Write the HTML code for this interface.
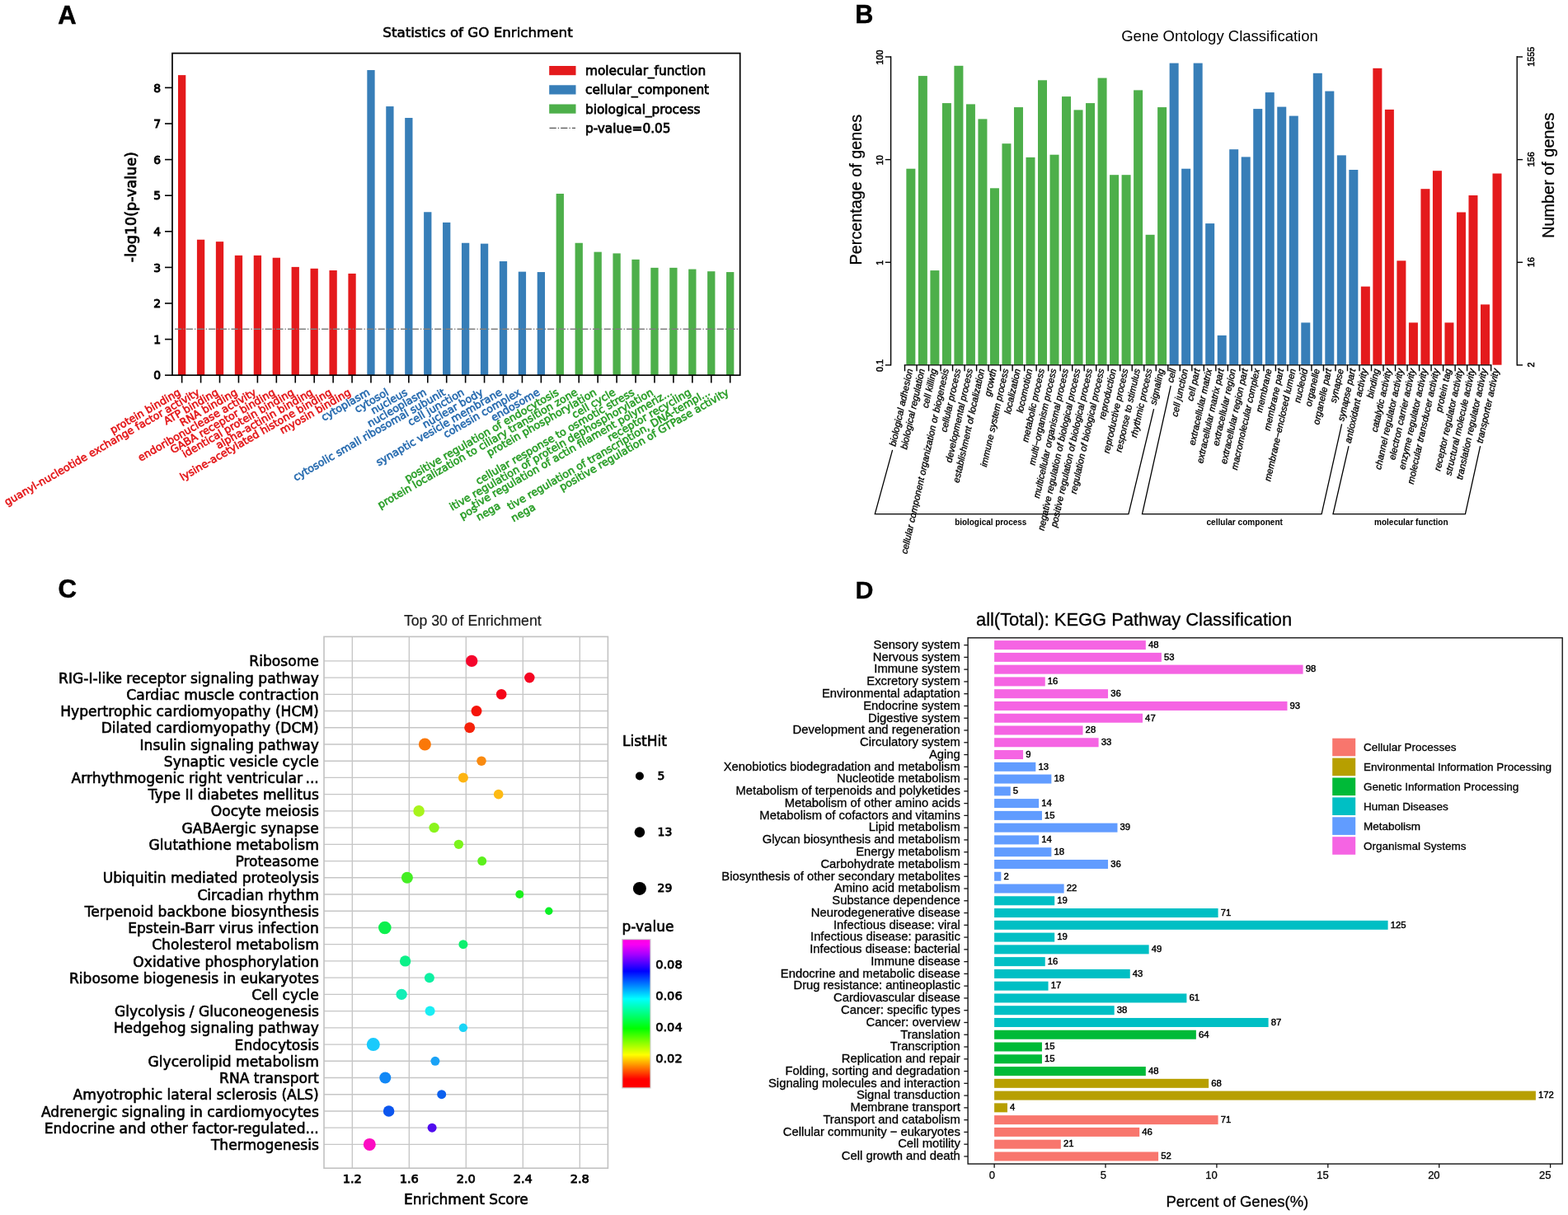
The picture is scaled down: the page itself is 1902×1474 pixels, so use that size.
<!DOCTYPE html>
<html lang="en"><head><meta charset="utf-8"><title>GO and KEGG enrichment analysis</title>
<style>html,body{margin:0;padding:0;background:#fff}svg{display:block}.hv{stroke:#000;stroke-width:.6px}.hva{stroke:#000;stroke-width:.9px}.hvl{stroke:#000;stroke-width:.75px}.hv3{stroke:#000;stroke-width:.45px}.hd{stroke:#000;stroke-width:.3px}.hb2{stroke:#000;stroke-width:.5px}.hvc{stroke:#000;stroke-width:.75px}.hb{stroke:#000;stroke-width:.35px}.hc{stroke:#000;stroke-width:.25px}text{white-space:pre}</style></head><body>
<svg width="1902" height="1474" viewBox="0 0 1902 1474" role="img" aria-label="GO and KEGG enrichment figure, panels A to D">
<rect width="1902" height="1474" fill="#fff"/>
<g id="panelA">
<rect x="216.00" y="91.14" width="9.30" height="364.06" fill="#e41a1c" />
<rect x="238.93" y="290.74" width="9.30" height="164.46" fill="#e41a1c" />
<rect x="261.86" y="293.14" width="9.30" height="162.06" fill="#e41a1c" />
<rect x="284.80" y="309.88" width="9.30" height="145.32" fill="#e41a1c" />
<rect x="307.73" y="309.88" width="9.30" height="145.32" fill="#e41a1c" />
<rect x="330.66" y="312.72" width="9.30" height="142.48" fill="#e41a1c" />
<rect x="353.59" y="323.88" width="9.30" height="131.32" fill="#e41a1c" />
<rect x="376.52" y="325.80" width="9.30" height="129.40" fill="#e41a1c" />
<rect x="399.46" y="328.02" width="9.30" height="127.18" fill="#e41a1c" />
<rect x="422.39" y="331.90" width="9.30" height="123.30" fill="#e41a1c" />
<rect x="445.32" y="85.04" width="9.30" height="370.16" fill="#377eb8" />
<rect x="468.25" y="129.07" width="9.30" height="326.13" fill="#377eb8" />
<rect x="491.18" y="143.02" width="9.30" height="312.18" fill="#377eb8" />
<rect x="514.12" y="257.26" width="9.30" height="197.94" fill="#377eb8" />
<rect x="537.05" y="269.90" width="9.30" height="185.30" fill="#377eb8" />
<rect x="559.98" y="294.75" width="9.30" height="160.45" fill="#377eb8" />
<rect x="582.91" y="295.62" width="9.30" height="159.58" fill="#377eb8" />
<rect x="605.84" y="316.99" width="9.30" height="138.21" fill="#377eb8" />
<rect x="628.78" y="329.63" width="9.30" height="125.57" fill="#377eb8" />
<rect x="651.71" y="330.07" width="9.30" height="125.13" fill="#377eb8" />
<rect x="674.64" y="235.02" width="9.30" height="220.18" fill="#4daf4a" />
<rect x="697.57" y="294.75" width="9.30" height="160.45" fill="#4daf4a" />
<rect x="720.50" y="305.65" width="9.30" height="149.55" fill="#4daf4a" />
<rect x="743.44" y="307.40" width="9.30" height="147.80" fill="#4daf4a" />
<rect x="766.37" y="314.81" width="9.30" height="140.39" fill="#4daf4a" />
<rect x="789.30" y="324.84" width="9.30" height="130.36" fill="#4daf4a" />
<rect x="812.23" y="324.84" width="9.30" height="130.36" fill="#4daf4a" />
<rect x="835.16" y="326.58" width="9.30" height="128.62" fill="#4daf4a" />
<rect x="858.10" y="329.20" width="9.30" height="126.00" fill="#4daf4a" />
<rect x="881.03" y="330.07" width="9.30" height="125.13" fill="#4daf4a" />
<line x1="212.00" y1="399.20" x2="896.00" y2="399.20" stroke="#7f7f7f" stroke-width="1.4" stroke-dasharray="8.2 2.1 1.3 2.1"/>
<rect x="209.0" y="64.6" width="688.7" height="390.6" fill="none" stroke="#000" stroke-width="1.7"/>
<line x1="200.00" y1="455.20" x2="209.00" y2="455.20" stroke="#000" stroke-width="1.6" />
<text font-family="'DejaVu Sans','Liberation Sans',sans-serif" font-size="13.9" fill="#000" text-anchor="end" x="195.00" y="460.35" class="hva">0</text>
<line x1="200.00" y1="411.60" x2="209.00" y2="411.60" stroke="#000" stroke-width="1.6" />
<text font-family="'DejaVu Sans','Liberation Sans',sans-serif" font-size="13.9" fill="#000" text-anchor="end" x="195.00" y="416.75" class="hva">1</text>
<line x1="200.00" y1="368.00" x2="209.00" y2="368.00" stroke="#000" stroke-width="1.6" />
<text font-family="'DejaVu Sans','Liberation Sans',sans-serif" font-size="13.9" fill="#000" text-anchor="end" x="195.00" y="373.15" class="hva">2</text>
<line x1="200.00" y1="324.40" x2="209.00" y2="324.40" stroke="#000" stroke-width="1.6" />
<text font-family="'DejaVu Sans','Liberation Sans',sans-serif" font-size="13.9" fill="#000" text-anchor="end" x="195.00" y="329.55" class="hva">3</text>
<line x1="200.00" y1="280.80" x2="209.00" y2="280.80" stroke="#000" stroke-width="1.6" />
<text font-family="'DejaVu Sans','Liberation Sans',sans-serif" font-size="13.9" fill="#000" text-anchor="end" x="195.00" y="285.95" class="hva">4</text>
<line x1="200.00" y1="237.20" x2="209.00" y2="237.20" stroke="#000" stroke-width="1.6" />
<text font-family="'DejaVu Sans','Liberation Sans',sans-serif" font-size="13.9" fill="#000" text-anchor="end" x="195.00" y="242.35" class="hva">5</text>
<line x1="200.00" y1="193.60" x2="209.00" y2="193.60" stroke="#000" stroke-width="1.6" />
<text font-family="'DejaVu Sans','Liberation Sans',sans-serif" font-size="13.9" fill="#000" text-anchor="end" x="195.00" y="198.75" class="hva">6</text>
<line x1="200.00" y1="150.00" x2="209.00" y2="150.00" stroke="#000" stroke-width="1.6" />
<text font-family="'DejaVu Sans','Liberation Sans',sans-serif" font-size="13.9" fill="#000" text-anchor="end" x="195.00" y="155.15" class="hva">7</text>
<line x1="200.00" y1="106.40" x2="209.00" y2="106.40" stroke="#000" stroke-width="1.6" />
<text font-family="'DejaVu Sans','Liberation Sans',sans-serif" font-size="13.9" fill="#000" text-anchor="end" x="195.00" y="111.55" class="hva">8</text>
<line x1="220.65" y1="455.20" x2="220.65" y2="464.50" stroke="#000" stroke-width="1.6" />
<text font-family="'DejaVu Sans','Liberation Sans',sans-serif" font-size="12.65" fill="#e41a1c" text-anchor="end" transform="translate(220.05 478.40) rotate(-30)" stroke="#e41a1c" stroke-width="0.65">protein binding</text>
<line x1="243.58" y1="455.20" x2="243.58" y2="464.50" stroke="#000" stroke-width="1.6" />
<text font-family="'DejaVu Sans','Liberation Sans',sans-serif" font-size="12.65" fill="#e41a1c" text-anchor="end" transform="translate(242.98 478.40) rotate(-30)" stroke="#e41a1c" stroke-width="0.65">guanyl-nucleotide exchange factor activity</text>
<line x1="266.51" y1="455.20" x2="266.51" y2="464.50" stroke="#000" stroke-width="1.6" />
<text font-family="'DejaVu Sans','Liberation Sans',sans-serif" font-size="12.65" fill="#e41a1c" text-anchor="end" transform="translate(265.91 478.40) rotate(-30)" stroke="#e41a1c" stroke-width="0.65">ATP binding</text>
<line x1="289.45" y1="455.20" x2="289.45" y2="464.50" stroke="#000" stroke-width="1.6" />
<text font-family="'DejaVu Sans','Liberation Sans',sans-serif" font-size="12.65" fill="#e41a1c" text-anchor="end" transform="translate(288.85 478.40) rotate(-30)" stroke="#e41a1c" stroke-width="0.65">RNA binding</text>
<line x1="312.38" y1="455.20" x2="312.38" y2="464.50" stroke="#000" stroke-width="1.6" />
<text font-family="'DejaVu Sans','Liberation Sans',sans-serif" font-size="12.65" fill="#e41a1c" text-anchor="end" transform="translate(311.78 478.40) rotate(-30)" stroke="#e41a1c" stroke-width="0.65">endoribonuclease activity</text>
<line x1="335.31" y1="455.20" x2="335.31" y2="464.50" stroke="#000" stroke-width="1.6" />
<text font-family="'DejaVu Sans','Liberation Sans',sans-serif" font-size="12.65" fill="#e41a1c" text-anchor="end" transform="translate(334.71 478.40) rotate(-30)" stroke="#e41a1c" stroke-width="0.65">GABA receptor binding</text>
<line x1="358.24" y1="455.20" x2="358.24" y2="464.50" stroke="#000" stroke-width="1.6" />
<text font-family="'DejaVu Sans','Liberation Sans',sans-serif" font-size="12.65" fill="#e41a1c" text-anchor="end" transform="translate(357.64 478.40) rotate(-30)" stroke="#e41a1c" stroke-width="0.65">identical protein binding</text>
<line x1="381.17" y1="455.20" x2="381.17" y2="464.50" stroke="#000" stroke-width="1.6" />
<text font-family="'DejaVu Sans','Liberation Sans',sans-serif" font-size="12.65" fill="#e41a1c" text-anchor="end" transform="translate(380.57 478.40) rotate(-30)" stroke="#e41a1c" stroke-width="0.65">alpha-actinin binding</text>
<line x1="404.11" y1="455.20" x2="404.11" y2="464.50" stroke="#000" stroke-width="1.6" />
<text font-family="'DejaVu Sans','Liberation Sans',sans-serif" font-size="12.65" fill="#e41a1c" text-anchor="end" transform="translate(403.51 478.40) rotate(-30)" stroke="#e41a1c" stroke-width="0.65">lysine-acetylated histone binding</text>
<line x1="427.04" y1="455.20" x2="427.04" y2="464.50" stroke="#000" stroke-width="1.6" />
<text font-family="'DejaVu Sans','Liberation Sans',sans-serif" font-size="12.65" fill="#e41a1c" text-anchor="end" transform="translate(426.44 478.40) rotate(-30)" stroke="#e41a1c" stroke-width="0.65">myosin binding</text>
<line x1="449.97" y1="455.20" x2="449.97" y2="464.50" stroke="#000" stroke-width="1.6" />
<text font-family="'DejaVu Sans','Liberation Sans',sans-serif" font-size="12.65" fill="#2a6db0" text-anchor="end" transform="translate(449.37 478.40) rotate(-30)" stroke="#2a6db0" stroke-width="0.65">cytoplasm</text>
<line x1="472.90" y1="455.20" x2="472.90" y2="464.50" stroke="#000" stroke-width="1.6" />
<text font-family="'DejaVu Sans','Liberation Sans',sans-serif" font-size="12.65" fill="#2a6db0" text-anchor="end" transform="translate(472.30 478.40) rotate(-30)" stroke="#2a6db0" stroke-width="0.65">cytosol</text>
<line x1="495.83" y1="455.20" x2="495.83" y2="464.50" stroke="#000" stroke-width="1.6" />
<text font-family="'DejaVu Sans','Liberation Sans',sans-serif" font-size="12.65" fill="#2a6db0" text-anchor="end" transform="translate(495.23 478.40) rotate(-30)" stroke="#2a6db0" stroke-width="0.65">nucleus</text>
<line x1="518.77" y1="455.20" x2="518.77" y2="464.50" stroke="#000" stroke-width="1.6" />
<text font-family="'DejaVu Sans','Liberation Sans',sans-serif" font-size="12.65" fill="#2a6db0" text-anchor="end" transform="translate(518.17 478.40) rotate(-30)" stroke="#2a6db0" stroke-width="0.65">nucleoplasm</text>
<line x1="541.70" y1="455.20" x2="541.70" y2="464.50" stroke="#000" stroke-width="1.6" />
<text font-family="'DejaVu Sans','Liberation Sans',sans-serif" font-size="12.65" fill="#2a6db0" text-anchor="end" transform="translate(541.10 478.40) rotate(-30)" stroke="#2a6db0" stroke-width="0.65">cytosolic small ribosomal subunit</text>
<line x1="564.63" y1="455.20" x2="564.63" y2="464.50" stroke="#000" stroke-width="1.6" />
<text font-family="'DejaVu Sans','Liberation Sans',sans-serif" font-size="12.65" fill="#2a6db0" text-anchor="end" transform="translate(564.03 478.40) rotate(-30)" stroke="#2a6db0" stroke-width="0.65">cell junction</text>
<line x1="587.56" y1="455.20" x2="587.56" y2="464.50" stroke="#000" stroke-width="1.6" />
<text font-family="'DejaVu Sans','Liberation Sans',sans-serif" font-size="12.65" fill="#2a6db0" text-anchor="end" transform="translate(586.96 478.40) rotate(-30)" stroke="#2a6db0" stroke-width="0.65">nuclear body</text>
<line x1="610.49" y1="455.20" x2="610.49" y2="464.50" stroke="#000" stroke-width="1.6" />
<text font-family="'DejaVu Sans','Liberation Sans',sans-serif" font-size="12.65" fill="#2a6db0" text-anchor="end" transform="translate(609.89 478.40) rotate(-30)" stroke="#2a6db0" stroke-width="0.65">synaptic vesicle membrane</text>
<line x1="633.43" y1="455.20" x2="633.43" y2="464.50" stroke="#000" stroke-width="1.6" />
<text font-family="'DejaVu Sans','Liberation Sans',sans-serif" font-size="12.65" fill="#2a6db0" text-anchor="end" transform="translate(632.83 478.40) rotate(-30)" stroke="#2a6db0" stroke-width="0.65">cohesin complex</text>
<line x1="656.36" y1="455.20" x2="656.36" y2="464.50" stroke="#000" stroke-width="1.6" />
<text font-family="'DejaVu Sans','Liberation Sans',sans-serif" font-size="12.65" fill="#2a6db0" text-anchor="end" transform="translate(655.76 478.40) rotate(-30)" stroke="#2a6db0" stroke-width="0.65">endosome</text>
<line x1="679.29" y1="455.20" x2="679.29" y2="464.50" stroke="#000" stroke-width="1.6" />
<text font-family="'DejaVu Sans','Liberation Sans',sans-serif" font-size="12.65" fill="#2ea02c" text-anchor="end" transform="translate(678.69 478.40) rotate(-30)" stroke="#2ea02c" stroke-width="0.65">positive regulation of endocytosis</text>
<line x1="702.22" y1="455.20" x2="702.22" y2="464.50" stroke="#000" stroke-width="1.6" />
<text font-family="'DejaVu Sans','Liberation Sans',sans-serif" font-size="12.65" fill="#2ea02c" text-anchor="end" transform="translate(701.62 478.40) rotate(-30)" stroke="#2ea02c" stroke-width="0.65">protein localization to ciliary transition zone</text>
<line x1="725.15" y1="455.20" x2="725.15" y2="464.50" stroke="#000" stroke-width="1.6" />
<text font-family="'DejaVu Sans','Liberation Sans',sans-serif" font-size="12.65" fill="#2ea02c" text-anchor="end" transform="translate(724.55 478.40) rotate(-30)" stroke="#2ea02c" stroke-width="0.65">protein phosphorylation</text>
<line x1="748.09" y1="455.20" x2="748.09" y2="464.50" stroke="#000" stroke-width="1.6" />
<text font-family="'DejaVu Sans','Liberation Sans',sans-serif" font-size="12.65" fill="#2ea02c" text-anchor="end" transform="translate(747.49 478.40) rotate(-30)" stroke="#2ea02c" stroke-width="0.65">cell cycle</text>
<line x1="771.02" y1="455.20" x2="771.02" y2="464.50" stroke="#000" stroke-width="1.6" />
<text font-family="'DejaVu Sans','Liberation Sans',sans-serif" font-size="12.65" fill="#2ea02c" text-anchor="end" transform="translate(770.42 478.40) rotate(-30)" stroke="#2ea02c" stroke-width="0.65">cellular response to osmotic stress</text>
<line x1="793.95" y1="455.20" x2="793.95" y2="464.50" stroke="#000" stroke-width="1.6" />
<text font-family="'DejaVu Sans','Liberation Sans',sans-serif" font-size="12.65" fill="#2ea02c" text-anchor="end" transform="translate(793.35 478.40) rotate(-30)" stroke="#2ea02c" stroke-width="0.65">itive regulation of protein dephosphorylation</text>
<line x1="816.88" y1="455.20" x2="816.88" y2="464.50" stroke="#000" stroke-width="1.6" />
<text font-family="'DejaVu Sans','Liberation Sans',sans-serif" font-size="12.65" fill="#2ea02c" text-anchor="end" transform="translate(816.28 478.40) rotate(-30)" stroke="#2ea02c" stroke-width="0.65">tive regulation of actin filament polymeriz...</text>
<line x1="839.81" y1="455.20" x2="839.81" y2="464.50" stroke="#000" stroke-width="1.6" />
<text font-family="'DejaVu Sans','Liberation Sans',sans-serif" font-size="12.65" fill="#2ea02c" text-anchor="end" transform="translate(839.21 478.40) rotate(-30)" stroke="#2ea02c" stroke-width="0.65">receptor recycling</text>
<line x1="862.75" y1="455.20" x2="862.75" y2="464.50" stroke="#000" stroke-width="1.6" />
<text font-family="'DejaVu Sans','Liberation Sans',sans-serif" font-size="12.65" fill="#2ea02c" text-anchor="end" transform="translate(862.15 478.40) rotate(-30)" stroke="#2ea02c" stroke-width="0.65">tive regulation of transcription, DNA-templ...</text>
<line x1="885.68" y1="455.20" x2="885.68" y2="464.50" stroke="#000" stroke-width="1.6" />
<text font-family="'DejaVu Sans','Liberation Sans',sans-serif" font-size="12.65" fill="#2ea02c" text-anchor="end" transform="translate(885.08 478.40) rotate(-30)" stroke="#2ea02c" stroke-width="0.65">positive regulation of GTPase activity</text>
<text font-family="'DejaVu Sans','Liberation Sans',sans-serif" font-size="12.65" fill="#2ea02c" transform="translate(560.50 630.30) rotate(-30)" stroke="#2ea02c" stroke-width="0.65">pos</text>
<text font-family="'DejaVu Sans','Liberation Sans',sans-serif" font-size="12.65" fill="#2ea02c" transform="translate(580.70 632.00) rotate(-30)" stroke="#2ea02c" stroke-width="0.65">nega</text>
<text font-family="'DejaVu Sans','Liberation Sans',sans-serif" font-size="12.65" fill="#2ea02c" transform="translate(623.10 633.40) rotate(-30)" stroke="#2ea02c" stroke-width="0.65">nega</text>
<text font-family="'DejaVu Sans','Liberation Sans',sans-serif" font-size="16.7" fill="#000" text-anchor="middle" x="579.50" y="45.00" class="hv">Statistics of GO Enrichment</text>
<text font-family="'DejaVu Sans','Liberation Sans',sans-serif" font-size="17.55" fill="#000" text-anchor="middle" transform="translate(165.20 251.20) rotate(-90)" class="hvl">-log10(p-value)</text>
<rect x="666.20" y="80.00" width="32.30" height="11.20" fill="#e41a1c" />
<text font-family="'DejaVu Sans','Liberation Sans',sans-serif" font-size="15.3" fill="#000" x="710.00" y="91.00" class="hvl">molecular_function</text>
<rect x="666.20" y="103.30" width="32.30" height="11.20" fill="#377eb8" />
<text font-family="'DejaVu Sans','Liberation Sans',sans-serif" font-size="15.3" fill="#000" x="710.00" y="114.30" class="hvl">cellular_component</text>
<rect x="666.20" y="126.50" width="32.30" height="11.20" fill="#4daf4a" />
<text font-family="'DejaVu Sans','Liberation Sans',sans-serif" font-size="15.3" fill="#000" x="710.00" y="137.50" class="hvl">biological_process</text>
<line x1="666.50" y1="155.40" x2="698.00" y2="155.40" stroke="#555" stroke-width="1.2" stroke-dasharray="8.2 2.1 1.3 2.1"/>
<text font-family="'DejaVu Sans','Liberation Sans',sans-serif" font-size="15.3" fill="#000" x="710.00" y="160.80" class="hvl">p-value=0.05</text>
</g>
<g id="panelB">
<rect x="1099.35" y="204.70" width="11.00" height="237.99" fill="#4daf4a" />
<rect x="1113.86" y="92.10" width="11.00" height="350.59" fill="#4daf4a" />
<rect x="1128.38" y="328.10" width="11.00" height="114.59" fill="#4daf4a" />
<rect x="1142.89" y="125.10" width="11.00" height="317.59" fill="#4daf4a" />
<rect x="1157.40" y="79.80" width="11.00" height="362.89" fill="#4daf4a" />
<rect x="1171.91" y="126.40" width="11.00" height="316.29" fill="#4daf4a" />
<rect x="1186.43" y="144.40" width="11.00" height="298.29" fill="#4daf4a" />
<rect x="1200.94" y="228.30" width="11.00" height="214.39" fill="#4daf4a" />
<rect x="1215.45" y="174.20" width="11.00" height="268.49" fill="#4daf4a" />
<rect x="1229.97" y="130.10" width="11.00" height="312.59" fill="#4daf4a" />
<rect x="1244.48" y="190.90" width="11.00" height="251.79" fill="#4daf4a" />
<rect x="1258.99" y="97.30" width="11.00" height="345.39" fill="#4daf4a" />
<rect x="1273.51" y="187.70" width="11.00" height="254.99" fill="#4daf4a" />
<rect x="1288.02" y="117.10" width="11.00" height="325.59" fill="#4daf4a" />
<rect x="1302.53" y="133.40" width="11.00" height="309.29" fill="#4daf4a" />
<rect x="1317.04" y="125.10" width="11.00" height="317.59" fill="#4daf4a" />
<rect x="1331.56" y="94.60" width="11.00" height="348.09" fill="#4daf4a" />
<rect x="1346.07" y="212.20" width="11.00" height="230.49" fill="#4daf4a" />
<rect x="1360.58" y="212.20" width="11.00" height="230.49" fill="#4daf4a" />
<rect x="1375.10" y="109.40" width="11.00" height="333.29" fill="#4daf4a" />
<rect x="1389.61" y="284.80" width="11.00" height="157.89" fill="#4daf4a" />
<rect x="1404.12" y="130.10" width="11.00" height="312.59" fill="#4daf4a" />
<rect x="1418.64" y="76.60" width="11.00" height="366.09" fill="#377eb8" />
<rect x="1433.15" y="204.70" width="11.00" height="237.99" fill="#377eb8" />
<rect x="1447.66" y="76.60" width="11.00" height="366.09" fill="#377eb8" />
<rect x="1462.17" y="271.10" width="11.00" height="171.59" fill="#377eb8" />
<rect x="1476.69" y="406.90" width="11.00" height="35.79" fill="#377eb8" />
<rect x="1491.20" y="181.20" width="11.00" height="261.49" fill="#377eb8" />
<rect x="1505.71" y="190.40" width="11.00" height="252.29" fill="#377eb8" />
<rect x="1520.23" y="132.10" width="11.00" height="310.59" fill="#377eb8" />
<rect x="1534.74" y="112.10" width="11.00" height="330.59" fill="#377eb8" />
<rect x="1549.25" y="129.60" width="11.00" height="313.09" fill="#377eb8" />
<rect x="1563.77" y="140.60" width="11.00" height="302.09" fill="#377eb8" />
<rect x="1578.28" y="391.40" width="11.00" height="51.29" fill="#377eb8" />
<rect x="1592.79" y="88.80" width="11.00" height="353.89" fill="#377eb8" />
<rect x="1607.30" y="110.60" width="11.00" height="332.09" fill="#377eb8" />
<rect x="1621.82" y="188.40" width="11.00" height="254.29" fill="#377eb8" />
<rect x="1636.33" y="206.00" width="11.00" height="236.69" fill="#377eb8" />
<rect x="1650.84" y="347.60" width="11.00" height="95.09" fill="#e41a1c" />
<rect x="1665.36" y="82.80" width="11.00" height="359.89" fill="#e41a1c" />
<rect x="1679.87" y="132.90" width="11.00" height="309.79" fill="#e41a1c" />
<rect x="1694.38" y="316.30" width="11.00" height="126.39" fill="#e41a1c" />
<rect x="1708.90" y="391.40" width="11.00" height="51.29" fill="#e41a1c" />
<rect x="1723.41" y="229.20" width="11.00" height="213.49" fill="#e41a1c" />
<rect x="1737.92" y="207.20" width="11.00" height="235.49" fill="#e41a1c" />
<rect x="1752.43" y="391.40" width="11.00" height="51.29" fill="#e41a1c" />
<rect x="1766.95" y="257.50" width="11.00" height="185.19" fill="#e41a1c" />
<rect x="1781.46" y="237.00" width="11.00" height="205.69" fill="#e41a1c" />
<rect x="1795.97" y="369.40" width="11.00" height="73.29" fill="#e41a1c" />
<rect x="1810.49" y="210.50" width="11.00" height="232.19" fill="#e41a1c" />
<line x1="1096.80" y1="442.89" x2="1809.34" y2="442.89" stroke="#000" stroke-width="1.4" />
<line x1="1097.50" y1="442.69" x2="1097.50" y2="450.29" stroke="#000" stroke-width="1.4" />
<line x1="1112.01" y1="442.69" x2="1112.01" y2="450.29" stroke="#000" stroke-width="1.4" />
<line x1="1126.53" y1="442.69" x2="1126.53" y2="450.29" stroke="#000" stroke-width="1.4" />
<line x1="1141.04" y1="442.69" x2="1141.04" y2="450.29" stroke="#000" stroke-width="1.4" />
<line x1="1155.55" y1="442.69" x2="1155.55" y2="450.29" stroke="#000" stroke-width="1.4" />
<line x1="1170.07" y1="442.69" x2="1170.07" y2="450.29" stroke="#000" stroke-width="1.4" />
<line x1="1184.58" y1="442.69" x2="1184.58" y2="450.29" stroke="#000" stroke-width="1.4" />
<line x1="1199.09" y1="442.69" x2="1199.09" y2="450.29" stroke="#000" stroke-width="1.4" />
<line x1="1213.60" y1="442.69" x2="1213.60" y2="450.29" stroke="#000" stroke-width="1.4" />
<line x1="1228.12" y1="442.69" x2="1228.12" y2="450.29" stroke="#000" stroke-width="1.4" />
<line x1="1242.63" y1="442.69" x2="1242.63" y2="450.29" stroke="#000" stroke-width="1.4" />
<line x1="1257.14" y1="442.69" x2="1257.14" y2="450.29" stroke="#000" stroke-width="1.4" />
<line x1="1271.66" y1="442.69" x2="1271.66" y2="450.29" stroke="#000" stroke-width="1.4" />
<line x1="1286.17" y1="442.69" x2="1286.17" y2="450.29" stroke="#000" stroke-width="1.4" />
<line x1="1300.68" y1="442.69" x2="1300.68" y2="450.29" stroke="#000" stroke-width="1.4" />
<line x1="1315.19" y1="442.69" x2="1315.19" y2="450.29" stroke="#000" stroke-width="1.4" />
<line x1="1329.71" y1="442.69" x2="1329.71" y2="450.29" stroke="#000" stroke-width="1.4" />
<line x1="1344.22" y1="442.69" x2="1344.22" y2="450.29" stroke="#000" stroke-width="1.4" />
<line x1="1358.73" y1="442.69" x2="1358.73" y2="450.29" stroke="#000" stroke-width="1.4" />
<line x1="1373.25" y1="442.69" x2="1373.25" y2="450.29" stroke="#000" stroke-width="1.4" />
<line x1="1387.76" y1="442.69" x2="1387.76" y2="450.29" stroke="#000" stroke-width="1.4" />
<line x1="1402.27" y1="442.69" x2="1402.27" y2="450.29" stroke="#000" stroke-width="1.4" />
<line x1="1416.79" y1="442.69" x2="1416.79" y2="450.29" stroke="#000" stroke-width="1.4" />
<line x1="1431.30" y1="442.69" x2="1431.30" y2="450.29" stroke="#000" stroke-width="1.4" />
<line x1="1445.81" y1="442.69" x2="1445.81" y2="450.29" stroke="#000" stroke-width="1.4" />
<line x1="1460.33" y1="442.69" x2="1460.33" y2="450.29" stroke="#000" stroke-width="1.4" />
<line x1="1474.84" y1="442.69" x2="1474.84" y2="450.29" stroke="#000" stroke-width="1.4" />
<line x1="1489.35" y1="442.69" x2="1489.35" y2="450.29" stroke="#000" stroke-width="1.4" />
<line x1="1503.86" y1="442.69" x2="1503.86" y2="450.29" stroke="#000" stroke-width="1.4" />
<line x1="1518.38" y1="442.69" x2="1518.38" y2="450.29" stroke="#000" stroke-width="1.4" />
<line x1="1532.89" y1="442.69" x2="1532.89" y2="450.29" stroke="#000" stroke-width="1.4" />
<line x1="1547.40" y1="442.69" x2="1547.40" y2="450.29" stroke="#000" stroke-width="1.4" />
<line x1="1561.92" y1="442.69" x2="1561.92" y2="450.29" stroke="#000" stroke-width="1.4" />
<line x1="1576.43" y1="442.69" x2="1576.43" y2="450.29" stroke="#000" stroke-width="1.4" />
<line x1="1590.94" y1="442.69" x2="1590.94" y2="450.29" stroke="#000" stroke-width="1.4" />
<line x1="1605.45" y1="442.69" x2="1605.45" y2="450.29" stroke="#000" stroke-width="1.4" />
<line x1="1619.97" y1="442.69" x2="1619.97" y2="450.29" stroke="#000" stroke-width="1.4" />
<line x1="1634.48" y1="442.69" x2="1634.48" y2="450.29" stroke="#000" stroke-width="1.4" />
<line x1="1648.99" y1="442.69" x2="1648.99" y2="450.29" stroke="#000" stroke-width="1.4" />
<line x1="1663.51" y1="442.69" x2="1663.51" y2="450.29" stroke="#000" stroke-width="1.4" />
<line x1="1678.02" y1="442.69" x2="1678.02" y2="450.29" stroke="#000" stroke-width="1.4" />
<line x1="1692.53" y1="442.69" x2="1692.53" y2="450.29" stroke="#000" stroke-width="1.4" />
<line x1="1707.05" y1="442.69" x2="1707.05" y2="450.29" stroke="#000" stroke-width="1.4" />
<line x1="1721.56" y1="442.69" x2="1721.56" y2="450.29" stroke="#000" stroke-width="1.4" />
<line x1="1736.07" y1="442.69" x2="1736.07" y2="450.29" stroke="#000" stroke-width="1.4" />
<line x1="1750.59" y1="442.69" x2="1750.59" y2="450.29" stroke="#000" stroke-width="1.4" />
<line x1="1765.10" y1="442.69" x2="1765.10" y2="450.29" stroke="#000" stroke-width="1.4" />
<line x1="1779.61" y1="442.69" x2="1779.61" y2="450.29" stroke="#000" stroke-width="1.4" />
<line x1="1794.12" y1="442.69" x2="1794.12" y2="450.29" stroke="#000" stroke-width="1.4" />
<line x1="1808.64" y1="442.69" x2="1808.64" y2="450.29" stroke="#000" stroke-width="1.4" />
<line x1="1080.60" y1="68.30" x2="1080.60" y2="443.59" stroke="#000" stroke-width="1.4" />
<line x1="1073.80" y1="69.00" x2="1080.60" y2="69.00" stroke="#000" stroke-width="1.4" />
<text font-family="'Liberation Sans','DejaVu Sans',sans-serif" font-size="10.8" fill="#000" text-anchor="middle" transform="translate(1071.40 69.60) rotate(-90)" class="hb2">100</text>
<line x1="1073.80" y1="193.63" x2="1080.60" y2="193.63" stroke="#000" stroke-width="1.4" />
<text font-family="'Liberation Sans','DejaVu Sans',sans-serif" font-size="10.8" fill="#000" text-anchor="middle" transform="translate(1071.40 194.23) rotate(-90)" class="hb2">10</text>
<line x1="1073.80" y1="318.26" x2="1080.60" y2="318.26" stroke="#000" stroke-width="1.4" />
<text font-family="'Liberation Sans','DejaVu Sans',sans-serif" font-size="10.8" fill="#000" text-anchor="middle" transform="translate(1071.40 318.86) rotate(-90)" class="hb2">1</text>
<line x1="1073.80" y1="442.89" x2="1080.60" y2="442.89" stroke="#000" stroke-width="1.4" />
<text font-family="'Liberation Sans','DejaVu Sans',sans-serif" font-size="10.8" fill="#000" text-anchor="middle" transform="translate(1071.40 443.49) rotate(-90)" class="hb2">0.1</text>
<line x1="1840.20" y1="68.10" x2="1840.20" y2="443.59" stroke="#000" stroke-width="1.4" />
<line x1="1840.20" y1="69.00" x2="1847.00" y2="69.00" stroke="#000" stroke-width="1.4" />
<text font-family="'Liberation Sans','DejaVu Sans',sans-serif" font-size="10.8" fill="#000" text-anchor="middle" transform="translate(1861.20 68.70) rotate(-90)" class="hb2">1555</text>
<line x1="1840.20" y1="193.63" x2="1847.00" y2="193.63" stroke="#000" stroke-width="1.4" />
<text font-family="'Liberation Sans','DejaVu Sans',sans-serif" font-size="10.8" fill="#000" text-anchor="middle" transform="translate(1861.20 193.33) rotate(-90)" class="hb2">156</text>
<line x1="1840.20" y1="318.26" x2="1847.00" y2="318.26" stroke="#000" stroke-width="1.4" />
<text font-family="'Liberation Sans','DejaVu Sans',sans-serif" font-size="10.8" fill="#000" text-anchor="middle" transform="translate(1861.20 317.96) rotate(-90)" class="hb2">16</text>
<line x1="1840.20" y1="442.89" x2="1847.00" y2="442.89" stroke="#000" stroke-width="1.4" />
<text font-family="'Liberation Sans','DejaVu Sans',sans-serif" font-size="10.8" fill="#000" text-anchor="middle" transform="translate(1861.20 442.59) rotate(-90)" class="hb2">2</text>
<text font-family="'Liberation Sans','DejaVu Sans',sans-serif" font-size="18.5" fill="#000" text-anchor="middle" x="1479.50" y="49.80" >Gene Ontology Classification</text>
<text font-family="'Liberation Sans','DejaVu Sans',sans-serif" font-size="19.8" fill="#000" text-anchor="middle" transform="translate(1045.40 230.10) rotate(-90)" class="hc">Percentage of genes</text>
<text font-family="'Liberation Sans','DejaVu Sans',sans-serif" font-size="19.85" fill="#000" text-anchor="middle" transform="translate(1885.30 212.70) rotate(-90)" class="hc">Number of genes</text>
<text font-family="'Liberation Sans','DejaVu Sans',sans-serif" font-size="11.3" fill="#000" text-anchor="end" font-style="italic" transform="translate(1107.35 448.30) rotate(-77.3)" class="hb">biological adhesion</text>
<text font-family="'Liberation Sans','DejaVu Sans',sans-serif" font-size="11.3" fill="#000" text-anchor="end" font-style="italic" transform="translate(1121.86 448.30) rotate(-77.3)" class="hb">biological regulation</text>
<text font-family="'Liberation Sans','DejaVu Sans',sans-serif" font-size="11.3" fill="#000" text-anchor="end" font-style="italic" transform="translate(1136.38 448.30) rotate(-77.3)" class="hb">cell killing</text>
<text font-family="'Liberation Sans','DejaVu Sans',sans-serif" font-size="11.3" fill="#000" text-anchor="end" font-style="italic" transform="translate(1150.89 448.30) rotate(-77.3)" class="hb">cellular component organization or biogenesis</text>
<text font-family="'Liberation Sans','DejaVu Sans',sans-serif" font-size="11.3" fill="#000" text-anchor="end" font-style="italic" transform="translate(1165.40 448.30) rotate(-77.3)" class="hb">cellular process</text>
<text font-family="'Liberation Sans','DejaVu Sans',sans-serif" font-size="11.3" fill="#000" text-anchor="end" font-style="italic" transform="translate(1179.91 448.30) rotate(-77.3)" class="hb">developmental process</text>
<text font-family="'Liberation Sans','DejaVu Sans',sans-serif" font-size="11.3" fill="#000" text-anchor="end" font-style="italic" transform="translate(1194.43 448.30) rotate(-77.3)" class="hb">establishment of localization</text>
<text font-family="'Liberation Sans','DejaVu Sans',sans-serif" font-size="11.3" fill="#000" text-anchor="end" font-style="italic" transform="translate(1208.94 448.30) rotate(-77.3)" class="hb">growth</text>
<text font-family="'Liberation Sans','DejaVu Sans',sans-serif" font-size="11.3" fill="#000" text-anchor="end" font-style="italic" transform="translate(1223.45 448.30) rotate(-77.3)" class="hb">immune system process</text>
<text font-family="'Liberation Sans','DejaVu Sans',sans-serif" font-size="11.3" fill="#000" text-anchor="end" font-style="italic" transform="translate(1237.97 448.30) rotate(-77.3)" class="hb">localization</text>
<text font-family="'Liberation Sans','DejaVu Sans',sans-serif" font-size="11.3" fill="#000" text-anchor="end" font-style="italic" transform="translate(1252.48 448.30) rotate(-77.3)" class="hb">locomotion</text>
<text font-family="'Liberation Sans','DejaVu Sans',sans-serif" font-size="11.3" fill="#000" text-anchor="end" font-style="italic" transform="translate(1266.99 448.30) rotate(-77.3)" class="hb">metabolic process</text>
<text font-family="'Liberation Sans','DejaVu Sans',sans-serif" font-size="11.3" fill="#000" text-anchor="end" font-style="italic" transform="translate(1281.51 448.30) rotate(-77.3)" class="hb">multi−organism process</text>
<text font-family="'Liberation Sans','DejaVu Sans',sans-serif" font-size="11.3" fill="#000" text-anchor="end" font-style="italic" transform="translate(1296.02 448.30) rotate(-77.3)" class="hb">multicellular organismal process</text>
<text font-family="'Liberation Sans','DejaVu Sans',sans-serif" font-size="11.3" fill="#000" text-anchor="end" font-style="italic" transform="translate(1310.53 448.30) rotate(-77.3)" class="hb">negative regulation of biological process</text>
<text font-family="'Liberation Sans','DejaVu Sans',sans-serif" font-size="11.3" fill="#000" text-anchor="end" font-style="italic" transform="translate(1325.04 448.30) rotate(-77.3)" class="hb">positive regulation of biological process</text>
<text font-family="'Liberation Sans','DejaVu Sans',sans-serif" font-size="11.3" fill="#000" text-anchor="end" font-style="italic" transform="translate(1339.56 448.30) rotate(-77.3)" class="hb">regulation of biological process</text>
<text font-family="'Liberation Sans','DejaVu Sans',sans-serif" font-size="11.3" fill="#000" text-anchor="end" font-style="italic" transform="translate(1354.07 448.30) rotate(-77.3)" class="hb">reproduction</text>
<text font-family="'Liberation Sans','DejaVu Sans',sans-serif" font-size="11.3" fill="#000" text-anchor="end" font-style="italic" transform="translate(1368.58 448.30) rotate(-77.3)" class="hb">reproductive process</text>
<text font-family="'Liberation Sans','DejaVu Sans',sans-serif" font-size="11.3" fill="#000" text-anchor="end" font-style="italic" transform="translate(1383.10 448.30) rotate(-77.3)" class="hb">response to stimulus</text>
<text font-family="'Liberation Sans','DejaVu Sans',sans-serif" font-size="11.3" fill="#000" text-anchor="end" font-style="italic" transform="translate(1397.61 448.30) rotate(-77.3)" class="hb">rhythmic process</text>
<text font-family="'Liberation Sans','DejaVu Sans',sans-serif" font-size="11.3" fill="#000" text-anchor="end" font-style="italic" transform="translate(1412.12 448.30) rotate(-77.3)" class="hb">signaling</text>
<text font-family="'Liberation Sans','DejaVu Sans',sans-serif" font-size="11.3" fill="#000" text-anchor="end" font-style="italic" transform="translate(1426.64 448.30) rotate(-77.3)" class="hb">cell</text>
<text font-family="'Liberation Sans','DejaVu Sans',sans-serif" font-size="11.3" fill="#000" text-anchor="end" font-style="italic" transform="translate(1441.15 448.30) rotate(-77.3)" class="hb">cell junction</text>
<text font-family="'Liberation Sans','DejaVu Sans',sans-serif" font-size="11.3" fill="#000" text-anchor="end" font-style="italic" transform="translate(1455.66 448.30) rotate(-77.3)" class="hb">cell part</text>
<text font-family="'Liberation Sans','DejaVu Sans',sans-serif" font-size="11.3" fill="#000" text-anchor="end" font-style="italic" transform="translate(1470.17 448.30) rotate(-77.3)" class="hb">extracellular matrix</text>
<text font-family="'Liberation Sans','DejaVu Sans',sans-serif" font-size="11.3" fill="#000" text-anchor="end" font-style="italic" transform="translate(1484.69 448.30) rotate(-77.3)" class="hb">extracellular matrix part</text>
<text font-family="'Liberation Sans','DejaVu Sans',sans-serif" font-size="11.3" fill="#000" text-anchor="end" font-style="italic" transform="translate(1499.20 448.30) rotate(-77.3)" class="hb">extracellular region</text>
<text font-family="'Liberation Sans','DejaVu Sans',sans-serif" font-size="11.3" fill="#000" text-anchor="end" font-style="italic" transform="translate(1513.71 448.30) rotate(-77.3)" class="hb">extracellular region part</text>
<text font-family="'Liberation Sans','DejaVu Sans',sans-serif" font-size="11.3" fill="#000" text-anchor="end" font-style="italic" transform="translate(1528.23 448.30) rotate(-77.3)" class="hb">macromolecular complex</text>
<text font-family="'Liberation Sans','DejaVu Sans',sans-serif" font-size="11.3" fill="#000" text-anchor="end" font-style="italic" transform="translate(1542.74 448.30) rotate(-77.3)" class="hb">membrane</text>
<text font-family="'Liberation Sans','DejaVu Sans',sans-serif" font-size="11.3" fill="#000" text-anchor="end" font-style="italic" transform="translate(1557.25 448.30) rotate(-77.3)" class="hb">membrane part</text>
<text font-family="'Liberation Sans','DejaVu Sans',sans-serif" font-size="11.3" fill="#000" text-anchor="end" font-style="italic" transform="translate(1571.77 448.30) rotate(-77.3)" class="hb">membrane−enclosed lumen</text>
<text font-family="'Liberation Sans','DejaVu Sans',sans-serif" font-size="11.3" fill="#000" text-anchor="end" font-style="italic" transform="translate(1586.28 448.30) rotate(-77.3)" class="hb">nucleoid</text>
<text font-family="'Liberation Sans','DejaVu Sans',sans-serif" font-size="11.3" fill="#000" text-anchor="end" font-style="italic" transform="translate(1600.79 448.30) rotate(-77.3)" class="hb">organelle</text>
<text font-family="'Liberation Sans','DejaVu Sans',sans-serif" font-size="11.3" fill="#000" text-anchor="end" font-style="italic" transform="translate(1615.30 448.30) rotate(-77.3)" class="hb">organelle part</text>
<text font-family="'Liberation Sans','DejaVu Sans',sans-serif" font-size="11.3" fill="#000" text-anchor="end" font-style="italic" transform="translate(1629.82 448.30) rotate(-77.3)" class="hb">synapse</text>
<text font-family="'Liberation Sans','DejaVu Sans',sans-serif" font-size="11.3" fill="#000" text-anchor="end" font-style="italic" transform="translate(1644.33 448.30) rotate(-77.3)" class="hb">synapse part</text>
<text font-family="'Liberation Sans','DejaVu Sans',sans-serif" font-size="11.3" fill="#000" text-anchor="end" font-style="italic" transform="translate(1658.84 448.30) rotate(-77.3)" class="hb">antioxidant activity</text>
<text font-family="'Liberation Sans','DejaVu Sans',sans-serif" font-size="11.3" fill="#000" text-anchor="end" font-style="italic" transform="translate(1673.36 448.30) rotate(-77.3)" class="hb">binding</text>
<text font-family="'Liberation Sans','DejaVu Sans',sans-serif" font-size="11.3" fill="#000" text-anchor="end" font-style="italic" transform="translate(1687.87 448.30) rotate(-77.3)" class="hb">catalytic activity</text>
<text font-family="'Liberation Sans','DejaVu Sans',sans-serif" font-size="11.3" fill="#000" text-anchor="end" font-style="italic" transform="translate(1702.38 448.30) rotate(-77.3)" class="hb">channel regulator activity</text>
<text font-family="'Liberation Sans','DejaVu Sans',sans-serif" font-size="11.3" fill="#000" text-anchor="end" font-style="italic" transform="translate(1716.90 448.30) rotate(-77.3)" class="hb">electron carrier activity</text>
<text font-family="'Liberation Sans','DejaVu Sans',sans-serif" font-size="11.3" fill="#000" text-anchor="end" font-style="italic" transform="translate(1731.41 448.30) rotate(-77.3)" class="hb">enzyme regulator activity</text>
<text font-family="'Liberation Sans','DejaVu Sans',sans-serif" font-size="11.3" fill="#000" text-anchor="end" font-style="italic" transform="translate(1745.92 448.30) rotate(-77.3)" class="hb">molecular transducer activity</text>
<text font-family="'Liberation Sans','DejaVu Sans',sans-serif" font-size="11.3" fill="#000" text-anchor="end" font-style="italic" transform="translate(1760.43 448.30) rotate(-77.3)" class="hb">protein tag</text>
<text font-family="'Liberation Sans','DejaVu Sans',sans-serif" font-size="11.3" fill="#000" text-anchor="end" font-style="italic" transform="translate(1774.95 448.30) rotate(-77.3)" class="hb">receptor regulator activity</text>
<text font-family="'Liberation Sans','DejaVu Sans',sans-serif" font-size="11.3" fill="#000" text-anchor="end" font-style="italic" transform="translate(1789.46 448.30) rotate(-77.3)" class="hb">structural molecule activity</text>
<text font-family="'Liberation Sans','DejaVu Sans',sans-serif" font-size="11.3" fill="#000" text-anchor="end" font-style="italic" transform="translate(1803.97 448.30) rotate(-77.3)" class="hb">translation regulator activity</text>
<text font-family="'Liberation Sans','DejaVu Sans',sans-serif" font-size="11.3" fill="#000" text-anchor="end" font-style="italic" transform="translate(1818.49 448.30) rotate(-77.3)" class="hb">transporter activity</text>
<polyline fill="none" stroke="#000" stroke-width="1.3" points="1082.6,545.9 1061.3,623.7 1368.9,623.7 1399.6,496.2"/>
<polyline fill="none" stroke="#000" stroke-width="1.3" points="1420.2,467.9 1385.5,623.7 1603.1,623.7 1627.6,514.4"/>
<polyline fill="none" stroke="#000" stroke-width="1.3" points="1636.0,541.2 1617.0,623.7 1777.4,623.7 1795.6,541.2"/>
<text font-family="'Liberation Sans','DejaVu Sans',sans-serif" font-size="10.9" fill="#000" text-anchor="middle" font-weight="bold" x="1201.70" y="637.00" textLength="87" lengthAdjust="spacingAndGlyphs">biological process</text>
<text font-family="'Liberation Sans','DejaVu Sans',sans-serif" font-size="10.9" fill="#000" text-anchor="middle" font-weight="bold" x="1509.70" y="637.00" textLength="92.5" lengthAdjust="spacingAndGlyphs">cellular component</text>
<text font-family="'Liberation Sans','DejaVu Sans',sans-serif" font-size="10.9" fill="#000" text-anchor="middle" font-weight="bold" x="1711.80" y="637.00" textLength="89.5" lengthAdjust="spacingAndGlyphs">molecular function</text>
</g>
<g id="panelC">
<line x1="427.30" y1="772.40" x2="427.30" y2="1417.20" stroke="#c6c6c6" stroke-width="1.35" />
<line x1="496.30" y1="772.40" x2="496.30" y2="1417.20" stroke="#c6c6c6" stroke-width="1.35" />
<line x1="565.30" y1="772.40" x2="565.30" y2="1417.20" stroke="#c6c6c6" stroke-width="1.35" />
<line x1="634.30" y1="772.40" x2="634.30" y2="1417.20" stroke="#c6c6c6" stroke-width="1.35" />
<line x1="703.30" y1="772.40" x2="703.30" y2="1417.20" stroke="#c6c6c6" stroke-width="1.35" />
<line x1="393.00" y1="801.85" x2="737.40" y2="801.85" stroke="#c6c6c6" stroke-width="1.35" />
<line x1="393.00" y1="822.08" x2="737.40" y2="822.08" stroke="#c6c6c6" stroke-width="1.35" />
<line x1="393.00" y1="842.30" x2="737.40" y2="842.30" stroke="#c6c6c6" stroke-width="1.35" />
<line x1="393.00" y1="862.53" x2="737.40" y2="862.53" stroke="#c6c6c6" stroke-width="1.35" />
<line x1="393.00" y1="882.75" x2="737.40" y2="882.75" stroke="#c6c6c6" stroke-width="1.35" />
<line x1="393.00" y1="902.98" x2="737.40" y2="902.98" stroke="#c6c6c6" stroke-width="1.35" />
<line x1="393.00" y1="923.21" x2="737.40" y2="923.21" stroke="#c6c6c6" stroke-width="1.35" />
<line x1="393.00" y1="943.43" x2="737.40" y2="943.43" stroke="#c6c6c6" stroke-width="1.35" />
<line x1="393.00" y1="963.66" x2="737.40" y2="963.66" stroke="#c6c6c6" stroke-width="1.35" />
<line x1="393.00" y1="983.88" x2="737.40" y2="983.88" stroke="#c6c6c6" stroke-width="1.35" />
<line x1="393.00" y1="1004.11" x2="737.40" y2="1004.11" stroke="#c6c6c6" stroke-width="1.35" />
<line x1="393.00" y1="1024.34" x2="737.40" y2="1024.34" stroke="#c6c6c6" stroke-width="1.35" />
<line x1="393.00" y1="1044.56" x2="737.40" y2="1044.56" stroke="#c6c6c6" stroke-width="1.35" />
<line x1="393.00" y1="1064.79" x2="737.40" y2="1064.79" stroke="#c6c6c6" stroke-width="1.35" />
<line x1="393.00" y1="1085.01" x2="737.40" y2="1085.01" stroke="#c6c6c6" stroke-width="1.35" />
<line x1="393.00" y1="1105.24" x2="737.40" y2="1105.24" stroke="#c6c6c6" stroke-width="1.35" />
<line x1="393.00" y1="1125.47" x2="737.40" y2="1125.47" stroke="#c6c6c6" stroke-width="1.35" />
<line x1="393.00" y1="1145.69" x2="737.40" y2="1145.69" stroke="#c6c6c6" stroke-width="1.35" />
<line x1="393.00" y1="1165.92" x2="737.40" y2="1165.92" stroke="#c6c6c6" stroke-width="1.35" />
<line x1="393.00" y1="1186.14" x2="737.40" y2="1186.14" stroke="#c6c6c6" stroke-width="1.35" />
<line x1="393.00" y1="1206.37" x2="737.40" y2="1206.37" stroke="#c6c6c6" stroke-width="1.35" />
<line x1="393.00" y1="1226.60" x2="737.40" y2="1226.60" stroke="#c6c6c6" stroke-width="1.35" />
<line x1="393.00" y1="1246.82" x2="737.40" y2="1246.82" stroke="#c6c6c6" stroke-width="1.35" />
<line x1="393.00" y1="1267.05" x2="737.40" y2="1267.05" stroke="#c6c6c6" stroke-width="1.35" />
<line x1="393.00" y1="1287.27" x2="737.40" y2="1287.27" stroke="#c6c6c6" stroke-width="1.35" />
<line x1="393.00" y1="1307.50" x2="737.40" y2="1307.50" stroke="#c6c6c6" stroke-width="1.35" />
<line x1="393.00" y1="1327.73" x2="737.40" y2="1327.73" stroke="#c6c6c6" stroke-width="1.35" />
<line x1="393.00" y1="1347.95" x2="737.40" y2="1347.95" stroke="#c6c6c6" stroke-width="1.35" />
<line x1="393.00" y1="1368.18" x2="737.40" y2="1368.18" stroke="#c6c6c6" stroke-width="1.35" />
<line x1="393.00" y1="1388.40" x2="737.40" y2="1388.40" stroke="#c6c6c6" stroke-width="1.35" />
<rect x="393.0" y="772.4" width="344.4" height="644.8000000000001" fill="none" stroke="#c2c2c2" stroke-width="1.6"/>
<text font-family="'DejaVu Sans','Liberation Sans',sans-serif" font-size="17.1" fill="#000" text-anchor="end" x="386.80" y="808.45" class="hv">Ribosome</text>
<circle cx="572.2" cy="801.85" r="7.2" fill="#f5052c"/>
<text font-family="'DejaVu Sans','Liberation Sans',sans-serif" font-size="17.1" fill="#000" text-anchor="end" x="386.80" y="828.68" class="hv">RIG-I-like receptor signaling pathway</text>
<circle cx="642.3" cy="822.08" r="6.3" fill="#f50522"/>
<text font-family="'DejaVu Sans','Liberation Sans',sans-serif" font-size="17.1" fill="#000" text-anchor="end" x="386.80" y="848.90" class="hv">Cardiac muscle contraction</text>
<circle cx="608.2" cy="842.30" r="6.3" fill="#f50518"/>
<text font-family="'DejaVu Sans','Liberation Sans',sans-serif" font-size="17.1" fill="#000" text-anchor="end" x="386.80" y="869.13" class="hv">Hypertrophic cardiomyopathy (HCM)</text>
<circle cx="578.0" cy="862.53" r="6.5" fill="#f5140a"/>
<text font-family="'DejaVu Sans','Liberation Sans',sans-serif" font-size="17.1" fill="#000" text-anchor="end" x="386.80" y="889.35" class="hv">Dilated cardiomyopathy (DCM)</text>
<circle cx="569.7" cy="882.75" r="6.5" fill="#f5220a"/>
<text font-family="'DejaVu Sans','Liberation Sans',sans-serif" font-size="17.1" fill="#000" text-anchor="end" x="386.80" y="909.58" class="hv">Insulin signaling pathway</text>
<circle cx="515.4" cy="902.98" r="7.5" fill="#fa7808"/>
<text font-family="'DejaVu Sans','Liberation Sans',sans-serif" font-size="17.1" fill="#000" text-anchor="end" x="386.80" y="929.81" class="hv">Synaptic vesicle cycle</text>
<circle cx="584.0" cy="923.21" r="5.8" fill="#f98a10"/>
<text font-family="'DejaVu Sans','Liberation Sans',sans-serif" font-size="17.1" fill="#000" text-anchor="end" x="386.80" y="950.03" class="hv">Arrhythmogenic right ventricular ...</text>
<circle cx="561.9" cy="943.43" r="6.0" fill="#fdb412"/>
<text font-family="'DejaVu Sans','Liberation Sans',sans-serif" font-size="17.1" fill="#000" text-anchor="end" x="386.80" y="970.26" class="hv">Type II diabetes mellitus</text>
<circle cx="604.7" cy="963.66" r="5.8" fill="#fdba14"/>
<text font-family="'DejaVu Sans','Liberation Sans',sans-serif" font-size="17.1" fill="#000" text-anchor="end" x="386.80" y="990.48" class="hv">Oocyte meiosis</text>
<circle cx="508.1" cy="983.88" r="6.8" fill="#a8f41c"/>
<text font-family="'DejaVu Sans','Liberation Sans',sans-serif" font-size="17.1" fill="#000" text-anchor="end" x="386.80" y="1010.71" class="hv">GABAergic synapse</text>
<circle cx="526.6" cy="1004.11" r="6.2" fill="#8af41c"/>
<text font-family="'DejaVu Sans','Liberation Sans',sans-serif" font-size="17.1" fill="#000" text-anchor="end" x="386.80" y="1030.94" class="hv">Glutathione metabolism</text>
<circle cx="556.4" cy="1024.34" r="5.7" fill="#7cf41c"/>
<text font-family="'DejaVu Sans','Liberation Sans',sans-serif" font-size="17.1" fill="#000" text-anchor="end" x="386.80" y="1051.16" class="hv">Proteasome</text>
<circle cx="584.7" cy="1044.56" r="5.5" fill="#5cf01c"/>
<text font-family="'DejaVu Sans','Liberation Sans',sans-serif" font-size="17.1" fill="#000" text-anchor="end" x="386.80" y="1071.39" class="hv">Ubiquitin mediated proteolysis</text>
<circle cx="493.9" cy="1064.79" r="7.0" fill="#44ee24"/>
<text font-family="'DejaVu Sans','Liberation Sans',sans-serif" font-size="17.1" fill="#000" text-anchor="end" x="386.80" y="1091.61" class="hv">Circadian rhythm</text>
<circle cx="630.3" cy="1085.01" r="5.0" fill="#1cf01c"/>
<text font-family="'DejaVu Sans','Liberation Sans',sans-serif" font-size="17.1" fill="#000" text-anchor="end" x="386.80" y="1111.84" class="hv">Terpenoid backbone biosynthesis</text>
<circle cx="665.8" cy="1105.24" r="4.7" fill="#0cf026"/>
<text font-family="'DejaVu Sans','Liberation Sans',sans-serif" font-size="17.1" fill="#000" text-anchor="end" x="386.80" y="1132.07" class="hv">Epstein-Barr virus infection</text>
<circle cx="466.8" cy="1125.47" r="7.8" fill="#0cf04e"/>
<text font-family="'DejaVu Sans','Liberation Sans',sans-serif" font-size="17.1" fill="#000" text-anchor="end" x="386.80" y="1152.29" class="hv">Cholesterol metabolism</text>
<circle cx="561.9" cy="1145.69" r="5.5" fill="#0cf06e"/>
<text font-family="'DejaVu Sans','Liberation Sans',sans-serif" font-size="17.1" fill="#000" text-anchor="end" x="386.80" y="1172.52" class="hv">Oxidative phosphorylation</text>
<circle cx="491.6" cy="1165.92" r="6.7" fill="#0cf088"/>
<text font-family="'DejaVu Sans','Liberation Sans',sans-serif" font-size="17.1" fill="#000" text-anchor="end" x="386.80" y="1192.74" class="hv">Ribosome biogenesis in eukaryotes</text>
<circle cx="520.9" cy="1186.14" r="6.0" fill="#0cf0a2"/>
<text font-family="'DejaVu Sans','Liberation Sans',sans-serif" font-size="17.1" fill="#000" text-anchor="end" x="386.80" y="1212.97" class="hv">Cell cycle</text>
<circle cx="487.1" cy="1206.37" r="6.7" fill="#12eeb6"/>
<text font-family="'DejaVu Sans','Liberation Sans',sans-serif" font-size="17.1" fill="#000" text-anchor="end" x="386.80" y="1233.20" class="hv">Glycolysis / Gluconeogenesis</text>
<circle cx="521.6" cy="1226.60" r="6.0" fill="#1aeef4"/>
<text font-family="'DejaVu Sans','Liberation Sans',sans-serif" font-size="17.1" fill="#000" text-anchor="end" x="386.80" y="1253.42" class="hv">Hedgehog signaling pathway</text>
<circle cx="561.9" cy="1246.82" r="5.2" fill="#1ad4f6"/>
<text font-family="'DejaVu Sans','Liberation Sans',sans-serif" font-size="17.1" fill="#000" text-anchor="end" x="386.80" y="1273.65" class="hv">Endocytosis</text>
<circle cx="452.8" cy="1267.05" r="8.0" fill="#1acafc"/>
<text font-family="'DejaVu Sans','Liberation Sans',sans-serif" font-size="17.1" fill="#000" text-anchor="end" x="386.80" y="1293.87" class="hv">Glycerolipid metabolism</text>
<circle cx="527.9" cy="1287.27" r="5.5" fill="#1aa2f6"/>
<text font-family="'DejaVu Sans','Liberation Sans',sans-serif" font-size="17.1" fill="#000" text-anchor="end" x="386.80" y="1314.10" class="hv">RNA transport</text>
<circle cx="467.3" cy="1307.50" r="7.0" fill="#1288f6"/>
<text font-family="'DejaVu Sans','Liberation Sans',sans-serif" font-size="17.1" fill="#000" text-anchor="end" x="386.80" y="1334.33" class="hv">Amyotrophic lateral sclerosis (ALS)</text>
<circle cx="535.7" cy="1327.73" r="5.5" fill="#0c60ee"/>
<text font-family="'DejaVu Sans','Liberation Sans',sans-serif" font-size="17.1" fill="#000" text-anchor="end" x="386.80" y="1354.55" class="hv">Adrenergic signaling in cardiomyocytes</text>
<circle cx="471.6" cy="1347.95" r="6.8" fill="#0c56ee"/>
<text font-family="'DejaVu Sans','Liberation Sans',sans-serif" font-size="17.1" fill="#000" text-anchor="end" x="386.80" y="1374.78" class="hv">Endocrine and other factor-regulated...</text>
<circle cx="524.1" cy="1368.18" r="5.5" fill="#500cee"/>
<text font-family="'DejaVu Sans','Liberation Sans',sans-serif" font-size="17.1" fill="#000" text-anchor="end" x="386.80" y="1395.00" class="hv">Thermogenesis</text>
<circle cx="448.3" cy="1388.40" r="7.5" fill="#fc0cc2"/>
<text font-family="'DejaVu Sans','Liberation Sans',sans-serif" font-size="14.6" fill="#000" text-anchor="middle" x="427.30" y="1435.10" class="hvc">1.2</text>
<text font-family="'DejaVu Sans','Liberation Sans',sans-serif" font-size="14.6" fill="#000" text-anchor="middle" x="496.30" y="1435.10" class="hvc">1.6</text>
<text font-family="'DejaVu Sans','Liberation Sans',sans-serif" font-size="14.6" fill="#000" text-anchor="middle" x="565.30" y="1435.10" class="hvc">2.0</text>
<text font-family="'DejaVu Sans','Liberation Sans',sans-serif" font-size="14.6" fill="#000" text-anchor="middle" x="634.30" y="1435.10" class="hvc">2.4</text>
<text font-family="'DejaVu Sans','Liberation Sans',sans-serif" font-size="14.6" fill="#000" text-anchor="middle" x="703.30" y="1435.10" class="hvc">2.8</text>
<text font-family="'DejaVu Sans','Liberation Sans',sans-serif" font-size="17.0" fill="#000" text-anchor="middle" x="565.40" y="1461.00" class="hv">Enrichment Score</text>
<text font-family="'Liberation Sans','DejaVu Sans',sans-serif" font-size="17.65" fill="#1a1a1a" text-anchor="middle" x="573.30" y="759.00" stroke="#1a1a1a" stroke-width="0.2">Top 30 of Enrichment</text>
<text font-family="'DejaVu Sans','Liberation Sans',sans-serif" font-size="17.0" fill="#000" x="755.00" y="904.50" class="hv">ListHit</text>
<circle cx="775.9" cy="941.5" r="5.0" fill="#000"/>
<text font-family="'DejaVu Sans','Liberation Sans',sans-serif" font-size="14.0" fill="#000" x="797.60" y="945.50" class="hvc">5</text>
<circle cx="775.9" cy="1009.6" r="6.3" fill="#000"/>
<text font-family="'DejaVu Sans','Liberation Sans',sans-serif" font-size="14.0" fill="#000" x="797.60" y="1013.60" class="hvc">13</text>
<circle cx="775.9" cy="1077.9" r="8.0" fill="#000"/>
<text font-family="'DejaVu Sans','Liberation Sans',sans-serif" font-size="14.0" fill="#000" x="797.60" y="1081.90" class="hvc">29</text>
<text font-family="'DejaVu Sans','Liberation Sans',sans-serif" font-size="17.0" fill="#000" x="754.50" y="1130.10" class="hv">p-value</text>
<defs><linearGradient id="rb" x1="0" y1="0" x2="0" y2="1"><stop offset="0" stop-color="#ff00e0"/><stop offset="0.035" stop-color="#f800f4"/><stop offset="0.1" stop-color="#a800ff"/><stop offset="0.214" stop-color="#0000ff"/><stop offset="0.40" stop-color="#00ffff"/><stop offset="0.60" stop-color="#00ff00"/><stop offset="0.777" stop-color="#ffff00"/><stop offset="0.94" stop-color="#ff0000"/><stop offset="1" stop-color="#ff0000"/></linearGradient></defs>
<rect x="754.8" y="1139.6" width="34.2" height="180.3" fill="url(#rb)" stroke="#d0d0d0" stroke-width="1.2"/>
<text font-family="'DejaVu Sans','Liberation Sans',sans-serif" font-size="14.6" fill="#000" x="795.20" y="1175.00" class="hvc">0.08</text>
<text font-family="'DejaVu Sans','Liberation Sans',sans-serif" font-size="14.6" fill="#000" x="795.20" y="1213.30" class="hvc">0.06</text>
<text font-family="'DejaVu Sans','Liberation Sans',sans-serif" font-size="14.6" fill="#000" x="795.20" y="1251.10" class="hvc">0.04</text>
<text font-family="'DejaVu Sans','Liberation Sans',sans-serif" font-size="14.6" fill="#000" x="795.20" y="1289.20" class="hvc">0.02</text>
</g>
<g id="panelD">
<rect x="1206.10" y="777.10" width="183.72" height="11.00" fill="#F564E3" />
<text font-family="'Liberation Sans','DejaVu Sans',sans-serif" font-size="11.3" fill="#000" x="1392.92" y="785.90" class="hv3">48</text>
<line x1="1169.30" y1="782.60" x2="1174.10" y2="782.60" stroke="#111" stroke-width="1.3" />
<text font-family="'Liberation Sans','DejaVu Sans',sans-serif" font-size="14.8" fill="#000" text-anchor="end" x="1164.80" y="786.90" class="hd">Sensory system</text>
<rect x="1206.10" y="791.87" width="202.79" height="11.00" fill="#F564E3" />
<text font-family="'Liberation Sans','DejaVu Sans',sans-serif" font-size="11.3" fill="#000" x="1411.99" y="800.67" class="hv3">53</text>
<line x1="1169.30" y1="797.37" x2="1174.10" y2="797.37" stroke="#111" stroke-width="1.3" />
<text font-family="'Liberation Sans','DejaVu Sans',sans-serif" font-size="14.8" fill="#000" text-anchor="end" x="1164.80" y="801.67" class="hd">Nervous system</text>
<rect x="1206.10" y="806.64" width="374.47" height="11.00" fill="#F564E3" />
<text font-family="'Liberation Sans','DejaVu Sans',sans-serif" font-size="11.3" fill="#000" x="1583.67" y="815.44" class="hv3">98</text>
<line x1="1169.30" y1="812.14" x2="1174.10" y2="812.14" stroke="#111" stroke-width="1.3" />
<text font-family="'Liberation Sans','DejaVu Sans',sans-serif" font-size="14.8" fill="#000" text-anchor="end" x="1164.80" y="816.44" class="hd">Immune system</text>
<rect x="1206.10" y="821.41" width="61.64" height="11.00" fill="#F564E3" />
<text font-family="'Liberation Sans','DejaVu Sans',sans-serif" font-size="11.3" fill="#000" x="1270.84" y="830.21" class="hv3">16</text>
<line x1="1169.30" y1="826.91" x2="1174.10" y2="826.91" stroke="#111" stroke-width="1.3" />
<text font-family="'Liberation Sans','DejaVu Sans',sans-serif" font-size="14.8" fill="#000" text-anchor="end" x="1164.80" y="831.21" class="hd">Excretory system</text>
<rect x="1206.10" y="836.18" width="137.94" height="11.00" fill="#F564E3" />
<text font-family="'Liberation Sans','DejaVu Sans',sans-serif" font-size="11.3" fill="#000" x="1347.14" y="844.98" class="hv3">36</text>
<line x1="1169.30" y1="841.68" x2="1174.10" y2="841.68" stroke="#111" stroke-width="1.3" />
<text font-family="'Liberation Sans','DejaVu Sans',sans-serif" font-size="14.8" fill="#000" text-anchor="end" x="1164.80" y="845.98" class="hd">Environmental adaptation</text>
<rect x="1206.10" y="850.95" width="355.40" height="11.00" fill="#F564E3" />
<text font-family="'Liberation Sans','DejaVu Sans',sans-serif" font-size="11.3" fill="#000" x="1564.59" y="859.75" class="hv3">93</text>
<line x1="1169.30" y1="856.45" x2="1174.10" y2="856.45" stroke="#111" stroke-width="1.3" />
<text font-family="'Liberation Sans','DejaVu Sans',sans-serif" font-size="14.8" fill="#000" text-anchor="end" x="1164.80" y="860.75" class="hd">Endocrine system</text>
<rect x="1206.10" y="865.72" width="179.91" height="11.00" fill="#F564E3" />
<text font-family="'Liberation Sans','DejaVu Sans',sans-serif" font-size="11.3" fill="#000" x="1389.10" y="874.52" class="hv3">47</text>
<line x1="1169.30" y1="871.22" x2="1174.10" y2="871.22" stroke="#111" stroke-width="1.3" />
<text font-family="'Liberation Sans','DejaVu Sans',sans-serif" font-size="14.8" fill="#000" text-anchor="end" x="1164.80" y="875.52" class="hd">Digestive system</text>
<rect x="1206.10" y="880.49" width="107.42" height="11.00" fill="#F564E3" />
<text font-family="'Liberation Sans','DejaVu Sans',sans-serif" font-size="11.3" fill="#000" x="1316.62" y="889.29" class="hv3">28</text>
<line x1="1169.30" y1="885.99" x2="1174.10" y2="885.99" stroke="#111" stroke-width="1.3" />
<text font-family="'Liberation Sans','DejaVu Sans',sans-serif" font-size="14.8" fill="#000" text-anchor="end" x="1164.80" y="890.29" class="hd">Development and regeneration</text>
<rect x="1206.10" y="895.26" width="126.49" height="11.00" fill="#F564E3" />
<text font-family="'Liberation Sans','DejaVu Sans',sans-serif" font-size="11.3" fill="#000" x="1335.69" y="904.06" class="hv3">33</text>
<line x1="1169.30" y1="900.76" x2="1174.10" y2="900.76" stroke="#111" stroke-width="1.3" />
<text font-family="'Liberation Sans','DejaVu Sans',sans-serif" font-size="14.8" fill="#000" text-anchor="end" x="1164.80" y="905.06" class="hd">Circulatory system</text>
<rect x="1206.10" y="910.03" width="34.94" height="11.00" fill="#F564E3" />
<text font-family="'Liberation Sans','DejaVu Sans',sans-serif" font-size="11.3" fill="#000" x="1244.13" y="918.83" class="hv3">9</text>
<line x1="1169.30" y1="915.53" x2="1174.10" y2="915.53" stroke="#111" stroke-width="1.3" />
<text font-family="'Liberation Sans','DejaVu Sans',sans-serif" font-size="14.8" fill="#000" text-anchor="end" x="1164.80" y="919.83" class="hd">Aging</text>
<rect x="1206.10" y="924.80" width="50.20" height="11.00" fill="#619CFF" />
<text font-family="'Liberation Sans','DejaVu Sans',sans-serif" font-size="11.3" fill="#000" x="1259.39" y="933.60" class="hv3">13</text>
<line x1="1169.30" y1="930.30" x2="1174.10" y2="930.30" stroke="#111" stroke-width="1.3" />
<text font-family="'Liberation Sans','DejaVu Sans',sans-serif" font-size="14.8" fill="#000" text-anchor="end" x="1164.80" y="934.60" class="hd">Xenobiotics biodegradation and metabolism</text>
<rect x="1206.10" y="939.57" width="69.27" height="11.00" fill="#619CFF" />
<text font-family="'Liberation Sans','DejaVu Sans',sans-serif" font-size="11.3" fill="#000" x="1278.47" y="948.37" class="hv3">18</text>
<line x1="1169.30" y1="945.07" x2="1174.10" y2="945.07" stroke="#111" stroke-width="1.3" />
<text font-family="'Liberation Sans','DejaVu Sans',sans-serif" font-size="14.8" fill="#000" text-anchor="end" x="1164.80" y="949.37" class="hd">Nucleotide metabolism</text>
<rect x="1206.10" y="954.34" width="19.68" height="11.00" fill="#619CFF" />
<text font-family="'Liberation Sans','DejaVu Sans',sans-serif" font-size="11.3" fill="#000" x="1228.87" y="963.14" class="hv3">5</text>
<line x1="1169.30" y1="959.84" x2="1174.10" y2="959.84" stroke="#111" stroke-width="1.3" />
<text font-family="'Liberation Sans','DejaVu Sans',sans-serif" font-size="14.8" fill="#000" text-anchor="end" x="1164.80" y="964.14" class="hd">Metabolism of terpenoids and polyketides</text>
<rect x="1206.10" y="969.11" width="54.01" height="11.00" fill="#619CFF" />
<text font-family="'Liberation Sans','DejaVu Sans',sans-serif" font-size="11.3" fill="#000" x="1263.21" y="977.91" class="hv3">14</text>
<line x1="1169.30" y1="974.61" x2="1174.10" y2="974.61" stroke="#111" stroke-width="1.3" />
<text font-family="'Liberation Sans','DejaVu Sans',sans-serif" font-size="14.8" fill="#000" text-anchor="end" x="1164.80" y="978.91" class="hd">Metabolism of other amino acids</text>
<rect x="1206.10" y="983.88" width="57.83" height="11.00" fill="#619CFF" />
<text font-family="'Liberation Sans','DejaVu Sans',sans-serif" font-size="11.3" fill="#000" x="1267.02" y="992.68" class="hv3">15</text>
<line x1="1169.30" y1="989.38" x2="1174.10" y2="989.38" stroke="#111" stroke-width="1.3" />
<text font-family="'Liberation Sans','DejaVu Sans',sans-serif" font-size="14.8" fill="#000" text-anchor="end" x="1164.80" y="993.68" class="hd">Metabolism of cofactors and vitamins</text>
<rect x="1206.10" y="998.65" width="149.38" height="11.00" fill="#619CFF" />
<text font-family="'Liberation Sans','DejaVu Sans',sans-serif" font-size="11.3" fill="#000" x="1358.58" y="1007.45" class="hv3">39</text>
<line x1="1169.30" y1="1004.15" x2="1174.10" y2="1004.15" stroke="#111" stroke-width="1.3" />
<text font-family="'Liberation Sans','DejaVu Sans',sans-serif" font-size="14.8" fill="#000" text-anchor="end" x="1164.80" y="1008.45" class="hd">Lipid metabolism</text>
<rect x="1206.10" y="1013.42" width="54.01" height="11.00" fill="#619CFF" />
<text font-family="'Liberation Sans','DejaVu Sans',sans-serif" font-size="11.3" fill="#000" x="1263.21" y="1022.22" class="hv3">14</text>
<line x1="1169.30" y1="1018.92" x2="1174.10" y2="1018.92" stroke="#111" stroke-width="1.3" />
<text font-family="'Liberation Sans','DejaVu Sans',sans-serif" font-size="14.8" fill="#000" text-anchor="end" x="1164.80" y="1023.22" class="hd">Glycan biosynthesis and metabolism</text>
<rect x="1206.10" y="1028.19" width="69.27" height="11.00" fill="#619CFF" />
<text font-family="'Liberation Sans','DejaVu Sans',sans-serif" font-size="11.3" fill="#000" x="1278.47" y="1036.99" class="hv3">18</text>
<line x1="1169.30" y1="1033.69" x2="1174.10" y2="1033.69" stroke="#111" stroke-width="1.3" />
<text font-family="'Liberation Sans','DejaVu Sans',sans-serif" font-size="14.8" fill="#000" text-anchor="end" x="1164.80" y="1037.99" class="hd">Energy metabolism</text>
<rect x="1206.10" y="1042.96" width="137.94" height="11.00" fill="#619CFF" />
<text font-family="'Liberation Sans','DejaVu Sans',sans-serif" font-size="11.3" fill="#000" x="1347.14" y="1051.76" class="hv3">36</text>
<line x1="1169.30" y1="1048.46" x2="1174.10" y2="1048.46" stroke="#111" stroke-width="1.3" />
<text font-family="'Liberation Sans','DejaVu Sans',sans-serif" font-size="14.8" fill="#000" text-anchor="end" x="1164.80" y="1052.76" class="hd">Carbohydrate metabolism</text>
<rect x="1206.10" y="1057.73" width="8.23" height="11.00" fill="#619CFF" />
<text font-family="'Liberation Sans','DejaVu Sans',sans-serif" font-size="11.3" fill="#000" x="1217.43" y="1066.53" class="hv3">2</text>
<line x1="1169.30" y1="1063.23" x2="1174.10" y2="1063.23" stroke="#111" stroke-width="1.3" />
<text font-family="'Liberation Sans','DejaVu Sans',sans-serif" font-size="14.8" fill="#000" text-anchor="end" x="1164.80" y="1067.53" class="hd">Biosynthesis of other secondary metabolites</text>
<rect x="1206.10" y="1072.50" width="84.53" height="11.00" fill="#619CFF" />
<text font-family="'Liberation Sans','DejaVu Sans',sans-serif" font-size="11.3" fill="#000" x="1293.73" y="1081.30" class="hv3">22</text>
<line x1="1169.30" y1="1078.00" x2="1174.10" y2="1078.00" stroke="#111" stroke-width="1.3" />
<text font-family="'Liberation Sans','DejaVu Sans',sans-serif" font-size="14.8" fill="#000" text-anchor="end" x="1164.80" y="1082.30" class="hd">Amino acid metabolism</text>
<rect x="1206.10" y="1087.27" width="73.08" height="11.00" fill="#00BFC4" />
<text font-family="'Liberation Sans','DejaVu Sans',sans-serif" font-size="11.3" fill="#000" x="1282.28" y="1096.07" class="hv3">19</text>
<line x1="1169.30" y1="1092.77" x2="1174.10" y2="1092.77" stroke="#111" stroke-width="1.3" />
<text font-family="'Liberation Sans','DejaVu Sans',sans-serif" font-size="14.8" fill="#000" text-anchor="end" x="1164.80" y="1097.07" class="hd">Substance dependence</text>
<rect x="1206.10" y="1102.04" width="271.47" height="11.00" fill="#00BFC4" />
<text font-family="'Liberation Sans','DejaVu Sans',sans-serif" font-size="11.3" fill="#000" x="1480.66" y="1110.84" class="hv3">71</text>
<line x1="1169.30" y1="1107.54" x2="1174.10" y2="1107.54" stroke="#111" stroke-width="1.3" />
<text font-family="'Liberation Sans','DejaVu Sans',sans-serif" font-size="14.8" fill="#000" text-anchor="end" x="1164.80" y="1111.84" class="hd">Neurodegenerative disease</text>
<rect x="1206.10" y="1116.81" width="477.48" height="11.00" fill="#00BFC4" />
<text font-family="'Liberation Sans','DejaVu Sans',sans-serif" font-size="11.3" fill="#000" x="1686.67" y="1125.61" class="hv3">125</text>
<line x1="1169.30" y1="1122.31" x2="1174.10" y2="1122.31" stroke="#111" stroke-width="1.3" />
<text font-family="'Liberation Sans','DejaVu Sans',sans-serif" font-size="14.8" fill="#000" text-anchor="end" x="1164.80" y="1126.61" class="hd">Infectious disease: viral</text>
<rect x="1206.10" y="1131.58" width="73.08" height="11.00" fill="#00BFC4" />
<text font-family="'Liberation Sans','DejaVu Sans',sans-serif" font-size="11.3" fill="#000" x="1282.28" y="1140.38" class="hv3">19</text>
<line x1="1169.30" y1="1137.08" x2="1174.10" y2="1137.08" stroke="#111" stroke-width="1.3" />
<text font-family="'Liberation Sans','DejaVu Sans',sans-serif" font-size="14.8" fill="#000" text-anchor="end" x="1164.80" y="1141.38" class="hd">Infectious disease: parasitic</text>
<rect x="1206.10" y="1146.35" width="187.53" height="11.00" fill="#00BFC4" />
<text font-family="'Liberation Sans','DejaVu Sans',sans-serif" font-size="11.3" fill="#000" x="1396.73" y="1155.15" class="hv3">49</text>
<line x1="1169.30" y1="1151.85" x2="1174.10" y2="1151.85" stroke="#111" stroke-width="1.3" />
<text font-family="'Liberation Sans','DejaVu Sans',sans-serif" font-size="14.8" fill="#000" text-anchor="end" x="1164.80" y="1156.15" class="hd">Infectious disease: bacterial</text>
<rect x="1206.10" y="1161.12" width="61.64" height="11.00" fill="#00BFC4" />
<text font-family="'Liberation Sans','DejaVu Sans',sans-serif" font-size="11.3" fill="#000" x="1270.84" y="1169.92" class="hv3">16</text>
<line x1="1169.30" y1="1166.62" x2="1174.10" y2="1166.62" stroke="#111" stroke-width="1.3" />
<text font-family="'Liberation Sans','DejaVu Sans',sans-serif" font-size="14.8" fill="#000" text-anchor="end" x="1164.80" y="1170.92" class="hd">Immune disease</text>
<rect x="1206.10" y="1175.89" width="164.64" height="11.00" fill="#00BFC4" />
<text font-family="'Liberation Sans','DejaVu Sans',sans-serif" font-size="11.3" fill="#000" x="1373.84" y="1184.69" class="hv3">43</text>
<line x1="1169.30" y1="1181.39" x2="1174.10" y2="1181.39" stroke="#111" stroke-width="1.3" />
<text font-family="'Liberation Sans','DejaVu Sans',sans-serif" font-size="14.8" fill="#000" text-anchor="end" x="1164.80" y="1185.69" class="hd">Endocrine and metabolic disease</text>
<rect x="1206.10" y="1190.66" width="65.45" height="11.00" fill="#00BFC4" />
<text font-family="'Liberation Sans','DejaVu Sans',sans-serif" font-size="11.3" fill="#000" x="1274.65" y="1199.46" class="hv3">17</text>
<line x1="1169.30" y1="1196.16" x2="1174.10" y2="1196.16" stroke="#111" stroke-width="1.3" />
<text font-family="'Liberation Sans','DejaVu Sans',sans-serif" font-size="14.8" fill="#000" text-anchor="end" x="1164.80" y="1200.46" class="hd">Drug resistance: antineoplastic</text>
<rect x="1206.10" y="1205.43" width="233.31" height="11.00" fill="#00BFC4" />
<text font-family="'Liberation Sans','DejaVu Sans',sans-serif" font-size="11.3" fill="#000" x="1442.51" y="1214.23" class="hv3">61</text>
<line x1="1169.30" y1="1210.93" x2="1174.10" y2="1210.93" stroke="#111" stroke-width="1.3" />
<text font-family="'Liberation Sans','DejaVu Sans',sans-serif" font-size="14.8" fill="#000" text-anchor="end" x="1164.80" y="1215.23" class="hd">Cardiovascular disease</text>
<rect x="1206.10" y="1220.20" width="145.57" height="11.00" fill="#00BFC4" />
<text font-family="'Liberation Sans','DejaVu Sans',sans-serif" font-size="11.3" fill="#000" x="1354.77" y="1229.00" class="hv3">38</text>
<line x1="1169.30" y1="1225.70" x2="1174.10" y2="1225.70" stroke="#111" stroke-width="1.3" />
<text font-family="'Liberation Sans','DejaVu Sans',sans-serif" font-size="14.8" fill="#000" text-anchor="end" x="1164.80" y="1230.00" class="hd">Cancer: specific types</text>
<rect x="1206.10" y="1234.97" width="332.50" height="11.00" fill="#00BFC4" />
<text font-family="'Liberation Sans','DejaVu Sans',sans-serif" font-size="11.3" fill="#000" x="1541.70" y="1243.77" class="hv3">87</text>
<line x1="1169.30" y1="1240.47" x2="1174.10" y2="1240.47" stroke="#111" stroke-width="1.3" />
<text font-family="'Liberation Sans','DejaVu Sans',sans-serif" font-size="14.8" fill="#000" text-anchor="end" x="1164.80" y="1244.77" class="hd">Cancer: overview</text>
<rect x="1206.10" y="1249.74" width="244.76" height="11.00" fill="#00BA38" />
<text font-family="'Liberation Sans','DejaVu Sans',sans-serif" font-size="11.3" fill="#000" x="1453.96" y="1258.54" class="hv3">64</text>
<line x1="1169.30" y1="1255.24" x2="1174.10" y2="1255.24" stroke="#111" stroke-width="1.3" />
<text font-family="'Liberation Sans','DejaVu Sans',sans-serif" font-size="14.8" fill="#000" text-anchor="end" x="1164.80" y="1259.54" class="hd">Translation</text>
<rect x="1206.10" y="1264.51" width="57.83" height="11.00" fill="#00BA38" />
<text font-family="'Liberation Sans','DejaVu Sans',sans-serif" font-size="11.3" fill="#000" x="1267.02" y="1273.31" class="hv3">15</text>
<line x1="1169.30" y1="1270.01" x2="1174.10" y2="1270.01" stroke="#111" stroke-width="1.3" />
<text font-family="'Liberation Sans','DejaVu Sans',sans-serif" font-size="14.8" fill="#000" text-anchor="end" x="1164.80" y="1274.31" class="hd">Transcription</text>
<rect x="1206.10" y="1279.28" width="57.83" height="11.00" fill="#00BA38" />
<text font-family="'Liberation Sans','DejaVu Sans',sans-serif" font-size="11.3" fill="#000" x="1267.02" y="1288.08" class="hv3">15</text>
<line x1="1169.30" y1="1284.78" x2="1174.10" y2="1284.78" stroke="#111" stroke-width="1.3" />
<text font-family="'Liberation Sans','DejaVu Sans',sans-serif" font-size="14.8" fill="#000" text-anchor="end" x="1164.80" y="1289.08" class="hd">Replication and repair</text>
<rect x="1206.10" y="1294.05" width="183.72" height="11.00" fill="#00BA38" />
<text font-family="'Liberation Sans','DejaVu Sans',sans-serif" font-size="11.3" fill="#000" x="1392.92" y="1302.85" class="hv3">48</text>
<line x1="1169.30" y1="1299.55" x2="1174.10" y2="1299.55" stroke="#111" stroke-width="1.3" />
<text font-family="'Liberation Sans','DejaVu Sans',sans-serif" font-size="14.8" fill="#000" text-anchor="end" x="1164.80" y="1303.85" class="hd">Folding, sorting and degradation</text>
<rect x="1206.10" y="1308.82" width="260.02" height="11.00" fill="#B79F00" />
<text font-family="'Liberation Sans','DejaVu Sans',sans-serif" font-size="11.3" fill="#000" x="1469.22" y="1317.62" class="hv3">68</text>
<line x1="1169.30" y1="1314.32" x2="1174.10" y2="1314.32" stroke="#111" stroke-width="1.3" />
<text font-family="'Liberation Sans','DejaVu Sans',sans-serif" font-size="14.8" fill="#000" text-anchor="end" x="1164.80" y="1318.62" class="hd">Signaling molecules and interaction</text>
<rect x="1206.10" y="1323.59" width="656.78" height="11.00" fill="#B79F00" />
<text font-family="'Liberation Sans','DejaVu Sans',sans-serif" font-size="11.3" fill="#000" x="1865.98" y="1332.39" class="hv3">172</text>
<line x1="1169.30" y1="1329.09" x2="1174.10" y2="1329.09" stroke="#111" stroke-width="1.3" />
<text font-family="'Liberation Sans','DejaVu Sans',sans-serif" font-size="14.8" fill="#000" text-anchor="end" x="1164.80" y="1333.39" class="hd">Signal transduction</text>
<rect x="1206.10" y="1338.36" width="15.86" height="11.00" fill="#B79F00" />
<text font-family="'Liberation Sans','DejaVu Sans',sans-serif" font-size="11.3" fill="#000" x="1225.06" y="1347.16" class="hv3">4</text>
<line x1="1169.30" y1="1343.86" x2="1174.10" y2="1343.86" stroke="#111" stroke-width="1.3" />
<text font-family="'Liberation Sans','DejaVu Sans',sans-serif" font-size="14.8" fill="#000" text-anchor="end" x="1164.80" y="1348.16" class="hd">Membrane transport</text>
<rect x="1206.10" y="1353.13" width="271.47" height="11.00" fill="#F8766D" />
<text font-family="'Liberation Sans','DejaVu Sans',sans-serif" font-size="11.3" fill="#000" x="1480.66" y="1361.93" class="hv3">71</text>
<line x1="1169.30" y1="1358.63" x2="1174.10" y2="1358.63" stroke="#111" stroke-width="1.3" />
<text font-family="'Liberation Sans','DejaVu Sans',sans-serif" font-size="14.8" fill="#000" text-anchor="end" x="1164.80" y="1362.93" class="hd">Transport and catabolism</text>
<rect x="1206.10" y="1367.90" width="176.09" height="11.00" fill="#F8766D" />
<text font-family="'Liberation Sans','DejaVu Sans',sans-serif" font-size="11.3" fill="#000" x="1385.29" y="1376.70" class="hv3">46</text>
<line x1="1169.30" y1="1373.40" x2="1174.10" y2="1373.40" stroke="#111" stroke-width="1.3" />
<text font-family="'Liberation Sans','DejaVu Sans',sans-serif" font-size="14.8" fill="#000" text-anchor="end" x="1164.80" y="1377.70" class="hd">Cellular community − eukaryotes</text>
<rect x="1206.10" y="1382.67" width="80.71" height="11.00" fill="#F8766D" />
<text font-family="'Liberation Sans','DejaVu Sans',sans-serif" font-size="11.3" fill="#000" x="1289.91" y="1391.47" class="hv3">21</text>
<line x1="1169.30" y1="1388.17" x2="1174.10" y2="1388.17" stroke="#111" stroke-width="1.3" />
<text font-family="'Liberation Sans','DejaVu Sans',sans-serif" font-size="14.8" fill="#000" text-anchor="end" x="1164.80" y="1392.47" class="hd">Cell motility</text>
<rect x="1206.10" y="1397.44" width="198.98" height="11.00" fill="#F8766D" />
<text font-family="'Liberation Sans','DejaVu Sans',sans-serif" font-size="11.3" fill="#000" x="1408.18" y="1406.24" class="hv3">52</text>
<line x1="1169.30" y1="1402.94" x2="1174.10" y2="1402.94" stroke="#111" stroke-width="1.3" />
<text font-family="'Liberation Sans','DejaVu Sans',sans-serif" font-size="14.8" fill="#000" text-anchor="end" x="1164.80" y="1407.24" class="hd">Cell growth and death</text>
<rect x="1174.1" y="773.8" width="721.1000000000001" height="638.2" fill="none" stroke="#151515" stroke-width="1.4"/>
<line x1="1206.10" y1="1412.00" x2="1206.10" y2="1416.80" stroke="#111" stroke-width="1.3" />
<text font-family="'Liberation Sans','DejaVu Sans',sans-serif" font-size="13.0" fill="#000" text-anchor="end" x="1207.00" y="1429.50" class="hd">0</text>
<line x1="1341.00" y1="1412.00" x2="1341.00" y2="1416.80" stroke="#111" stroke-width="1.3" />
<text font-family="'Liberation Sans','DejaVu Sans',sans-serif" font-size="13.0" fill="#000" text-anchor="end" x="1341.90" y="1429.50" class="hd">5</text>
<line x1="1475.90" y1="1412.00" x2="1475.90" y2="1416.80" stroke="#111" stroke-width="1.3" />
<text font-family="'Liberation Sans','DejaVu Sans',sans-serif" font-size="13.0" fill="#000" text-anchor="end" x="1476.80" y="1429.50" class="hd">10</text>
<line x1="1610.80" y1="1412.00" x2="1610.80" y2="1416.80" stroke="#111" stroke-width="1.3" />
<text font-family="'Liberation Sans','DejaVu Sans',sans-serif" font-size="13.0" fill="#000" text-anchor="end" x="1611.70" y="1429.50" class="hd">15</text>
<line x1="1745.70" y1="1412.00" x2="1745.70" y2="1416.80" stroke="#111" stroke-width="1.3" />
<text font-family="'Liberation Sans','DejaVu Sans',sans-serif" font-size="13.0" fill="#000" text-anchor="end" x="1746.60" y="1429.50" class="hd">20</text>
<line x1="1880.60" y1="1412.00" x2="1880.60" y2="1416.80" stroke="#111" stroke-width="1.3" />
<text font-family="'Liberation Sans','DejaVu Sans',sans-serif" font-size="13.0" fill="#000" text-anchor="end" x="1881.50" y="1429.50" class="hd">25</text>
<text font-family="'Liberation Sans','DejaVu Sans',sans-serif" font-size="18.5" fill="#000" text-anchor="middle" x="1500.90" y="1463.60" class="hd">Percent of Genes(%)</text>
<text font-family="'Liberation Sans','DejaVu Sans',sans-serif" font-size="21.9" fill="#000" text-anchor="middle" x="1375.60" y="759.00" class="hd">all(Total): KEGG Pathway Classification</text>
<rect x="1616.20" y="895.70" width="28.00" height="21.60" fill="#F8766D" />
<text font-family="'Liberation Sans','DejaVu Sans',sans-serif" font-size="13.5" fill="#000" x="1654.00" y="911.10" class="hd">Cellular Processes</text>
<rect x="1616.20" y="919.60" width="28.00" height="21.60" fill="#B79F00" />
<text font-family="'Liberation Sans','DejaVu Sans',sans-serif" font-size="13.5" fill="#000" x="1654.00" y="935.00" class="hd">Environmental Information Processing</text>
<rect x="1616.20" y="943.50" width="28.00" height="21.60" fill="#00BA38" />
<text font-family="'Liberation Sans','DejaVu Sans',sans-serif" font-size="13.5" fill="#000" x="1654.00" y="958.90" class="hd">Genetic Information Processing</text>
<rect x="1616.20" y="967.40" width="28.00" height="21.60" fill="#00BFC4" />
<text font-family="'Liberation Sans','DejaVu Sans',sans-serif" font-size="13.5" fill="#000" x="1654.00" y="982.80" class="hd">Human Diseases</text>
<rect x="1616.20" y="991.30" width="28.00" height="21.60" fill="#619CFF" />
<text font-family="'Liberation Sans','DejaVu Sans',sans-serif" font-size="13.5" fill="#000" x="1654.00" y="1006.70" class="hd">Metabolism</text>
<rect x="1616.20" y="1015.20" width="28.00" height="21.60" fill="#F564E3" />
<text font-family="'Liberation Sans','DejaVu Sans',sans-serif" font-size="13.5" fill="#000" x="1654.00" y="1030.60" class="hd">Organismal Systems</text>
</g>
<text font-family="'Liberation Sans','DejaVu Sans',sans-serif" font-size="31" fill="#000" font-weight="bold" x="70.20" y="28.90" stroke="#000" stroke-width="0.5">A</text>
<text font-family="'Liberation Sans','DejaVu Sans',sans-serif" font-size="30.6" fill="#000" font-weight="bold" x="1037.30" y="27.80" stroke="#000" stroke-width="0.5">B</text>
<text font-family="'Liberation Sans','DejaVu Sans',sans-serif" font-size="31.2" fill="#000" font-weight="bold" x="70.40" y="725.00" stroke="#000" stroke-width="0.5">C</text>
<text font-family="'Liberation Sans','DejaVu Sans',sans-serif" font-size="30.4" fill="#000" font-weight="bold" x="1037.60" y="725.60" stroke="#000" stroke-width="0.3">D</text>
</svg></body></html>
